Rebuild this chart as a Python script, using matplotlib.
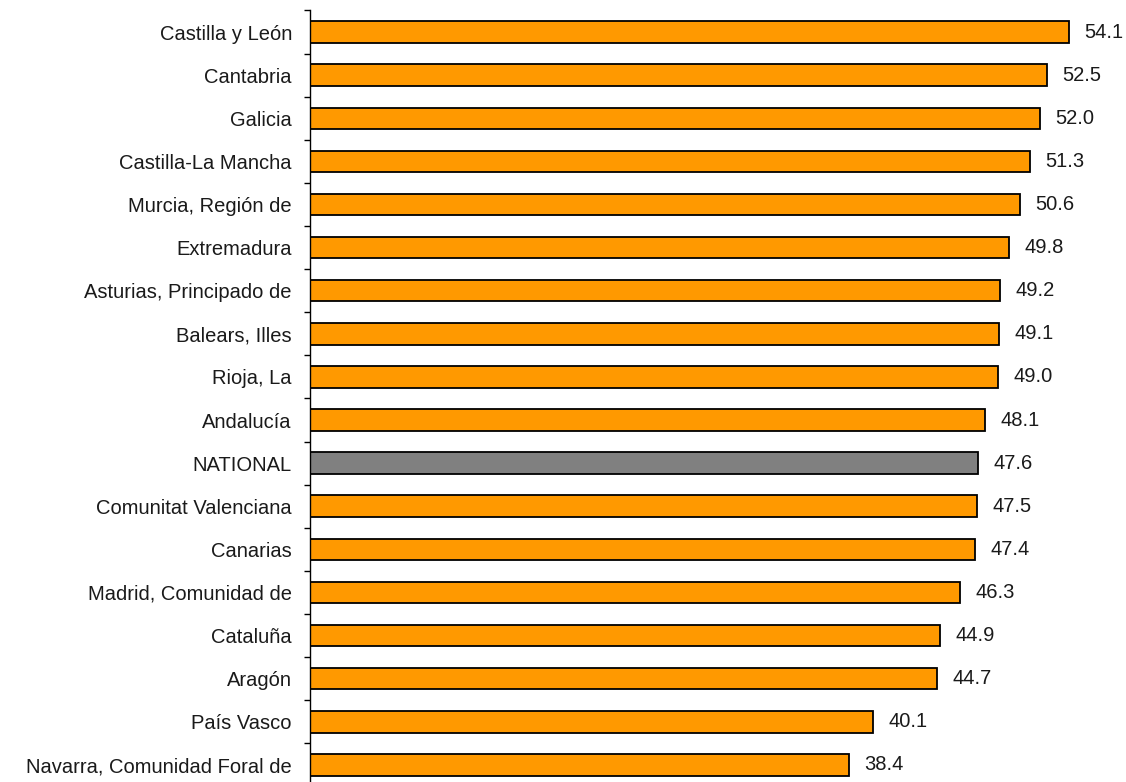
import matplotlib.pyplot as plt
import numpy as np

plt.rcParams['font.family'] = ['Liberation Sans', 'DejaVu Sans']

regions = ['Castilla y León', 'Cantabria', 'Galicia', 'Castilla-La Mancha',
           'Murcia, Región de', 'Extremadura', 'Asturias, Principado de',
           'Balears, Illes', 'Rioja, La', 'Andalucía', 'NATIONAL',
           'Comunitat Valenciana', 'Canarias', 'Madrid, Comunidad de',
           'Cataluña', 'Aragón', 'País Vasco', 'Navarra, Comunidad Foral de']
values = [54.1, 52.5, 52.0, 51.3, 50.6, 49.8, 49.2, 49.1, 49.0, 48.1, 47.6,
          47.5, 47.4, 46.3, 44.9, 44.7, 40.1, 38.4]

W, H = 1126, 782
fig = plt.figure(figsize=(W / 100, H / 100), dpi=100)
# axes runs slightly past the bottom edge, so the last row is clipped
ax = fig.add_axes([310 / W, -4.5 / H, (1124 - 310) / W, (782 - 10.5 + 4.5) / H])

y = np.arange(len(regions))
colors = ['#808080' if r == 'NATIONAL' else '#FF9900' for r in regions]
ax.barh(y, values, height=0.5, color=colors, edgecolor='black', linewidth=1.3)

for yi, v in zip(y, values):
    ax.text(v + 1.1, yi, f'{v:.1f}', va='center', ha='left', fontsize=14.5, color='#1a1a1a')

ax.set_xlim(0, 58)
ax.set_ylim(len(regions) - 0.5, -0.5)
ax.set_yticks(y)
ax.set_yticklabels(regions, fontsize=14.5, color='#1a1a1a')
ax.set_yticks(np.arange(-0.5, len(regions), 1), minor=True)
ax.tick_params(axis='y', which='major', length=0, pad=13)
ax.tick_params(axis='y', which='minor', length=4.5, width=1, color='black')
ax.set_xticks([])

for s in ['top', 'right', 'bottom']:
    ax.spines[s].set_visible(False)
ax.spines['left'].set_linewidth(1)

fig.savefig('out.png', dpi=100)
